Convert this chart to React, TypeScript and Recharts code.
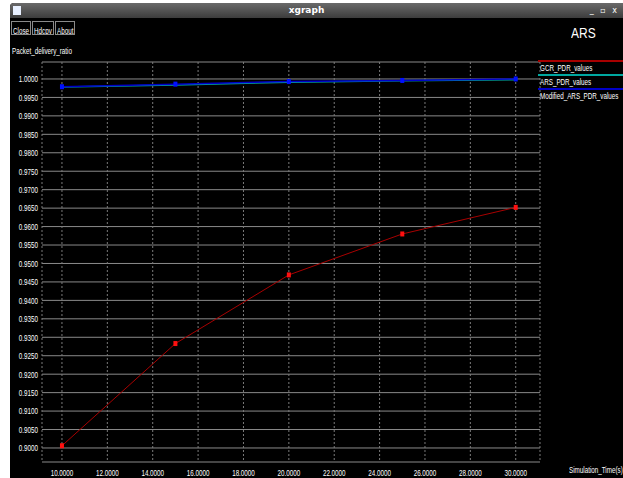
import { LineChart, Line, XAxis, YAxis, CartesianGrid, Legend } from "recharts";

const simTime = [10, 15, 20, 25, 30];
const gcrPdr = [0.9006, 0.9283, 0.9469, 0.958, 0.9652];
const arsPdr = [0.9978, 0.9984, 0.9991, 0.9995, 0.9998];
const modifiedArsPdr = [0.9979, 0.9986, 0.9993, 0.9996, 1.0];

const seriesNames = ["GCR_PDR_values", "ARS_PDR_values", "Modified_ARS_PDR_values"];

const xTicks = [10, 12, 14, 16, 18, 20, 22, 24, 26, 28, 30];
const yTicks = [
  0.9, 0.905, 0.91, 0.915, 0.92, 0.925, 0.93, 0.935, 0.94, 0.945, 0.95,
  0.955, 0.96, 0.965, 0.97, 0.975, 0.98, 0.985, 0.99, 0.995, 1.0,
];

const data = simTime.map((t, i) => ({
  t,
  gcr: gcrPdr[i],
  ars: arsPdr[i],
  mod: modifiedArsPdr[i],
}));

const font = "'Liberation Sans', Arial, sans-serif";
const SQUEEZE = 0.66;

// narrow xgraph-like text for html labels
const Narrow = ({ children, size = 9.5, scale = SQUEEZE }: any) => (
  <span
    style={{
      display: "inline-block",
      transform: `scaleX(${scale})`,
      transformOrigin: "left top",
      whiteSpace: "nowrap",
      fontFamily: font,
      fontSize: size,
      color: "#fff",
    }}
  >
    {children}
  </span>
);

const YTick = (props: any) => {
  const { x, y, payload } = props;
  return (
    <g transform={`translate(${x},${y})`}>
      <text transform={`scale(${SQUEEZE},1)`} textAnchor="end" dy="0.35em" fill="#fff" fontSize={9.5} fontFamily={font}>
        {payload.value.toFixed(4)}
      </text>
    </g>
  );
};

const XTick = (props: any) => {
  const { x, y, payload } = props;
  return (
    <g transform={`translate(${x},${y})`}>
      <text transform={`scale(${SQUEEZE},1)`} textAnchor="middle" dy="0.71em" fill="#fff" fontSize={9.5} fontFamily={font}>
        {payload.value.toFixed(4)}
      </text>
    </g>
  );
};

const squareDot = (fill: string) => (props: any) => {
  const { cx, cy, index } = props;
  return <rect key={index} x={cx - 2} y={cy - 2.5} width={4} height={5} fill={fill} />;
};

const LegendBox = (props: any) => {
  const items = [...(props.payload || [])].sort(
    (a: any, b: any) => seriesNames.indexOf(a.value) - seriesNames.indexOf(b.value)
  );
  return (
    <div style={{ width: 85 }}>
      {items.map((it: any) => (
        <div key={it.value} style={{ height: 14, position: "relative" }}>
          <div style={{ position: "absolute", top: 0, left: 0, borderTop: `2px solid ${it.color}`, width: 85 }} />
          <div style={{ position: "absolute", top: 1, left: 2, lineHeight: "10px" }}>
            <Narrow>{it.value}</Narrow>
          </div>
        </div>
      ))}
    </div>
  );
};

const Button = ({ label, w }: { label: string; w: number }) => (
  <div
    style={{
      width: w,
      height: 14,
      border: "1px solid #8a8a8a",
      lineHeight: "13px",
      marginRight: 1,
      overflow: "hidden",
      paddingLeft: 1,
      boxSizing: "border-box",
    }}
  >
    <Narrow>{label}</Narrow>
  </div>
);

export default function App() {
  return (
    <div
      style={{
        position: "absolute",
        left: 0,
        top: 0,
        width: 623,
        height: 478,
        background: "#fff",
        overflow: "hidden",
      }}
    >
      <div
        style={{
          position: "absolute",
          left: 10,
          top: 3,
          width: 613,
          height: 475,
          background: "#000",
          borderTopLeftRadius: 4,
        }}
      />
      {/* title bar */}
      <div
        style={{
          position: "absolute",
          left: 10,
          top: 3,
          width: 613,
          height: 15,
          background: "linear-gradient(#6a6a6a, #3c3c3c)",
          borderTopLeftRadius: 4,
          color: "#fff",
          fontFamily: "'DejaVu Sans', sans-serif",
          fontWeight: "bold",
          fontSize: 9,
          lineHeight: "15px",
        }}
      >
        <div style={{ position: "absolute", left: 3, top: 3, width: 8, height: 9, background: "#e8f0ff" }} />
        <div style={{ position: "absolute", width: 613, textAlign: "center", left: -10 }}>xgraph</div>
        <div style={{ position: "absolute", right: 4, top: 0, fontWeight: "normal", fontSize: 8, letterSpacing: 2 }}>
          _ ▫ x
        </div>
      </div>
      <div style={{ position: "absolute", left: 11, top: 21, display: "flex" }}>
        <Button label="Close" w={20} />
        <Button label="Hdcpy" w={22} />
        <Button label="About" w={20} />
      </div>
      <div style={{ position: "absolute", left: 12, top: 40 }}>
        <Narrow>Packet_delivery_ratio</Narrow>
      </div>
      <div style={{ position: "absolute", left: 571, top: 24 }}>
        <Narrow size={15} scale={0.8}>ARS</Narrow>
      </div>
      <div style={{ position: "absolute", left: 569, top: 459 }}>
        <Narrow>Simulation_Time(s)</Narrow>
      </div>
      <div style={{ position: "absolute", left: 0, top: 0 }}>
        <LineChart width={623} height={478} data={data} margin={{ top: 62, right: 83, bottom: 0, left: 0 }}>
          <CartesianGrid horizontal={true} vertical={false} stroke="#8a8a8a" strokeWidth={1} />
          <CartesianGrid horizontal={false} vertical={true} stroke="#7a7a7a" strokeDasharray="2 2" />
          <XAxis
            dataKey="t"
            type="number"
            domain={[9.12, 31.07]}
            ticks={xTicks}
            interval={0}
            allowDataOverflow
            axisLine={false}
            tickLine={false}
            height={16}
            tickSize={0}
            tickMargin={7}
            tick={<XTick />}
          />
          <YAxis
            type="number"
            domain={[0.8962, 1.0046]}
            ticks={yTicks}
            interval={0}
            allowDataOverflow
            axisLine={false}
            tickLine={false}
            width={42}
            tickSize={0}
            tickMargin={4}
            tick={<YTick />}
          />
          <Legend
            layout="vertical"
            align="center"
            verticalAlign="middle"
            wrapperStyle={{ position: "absolute", left: 538, top: 60, width: 85 }}
            content={LegendBox}
          />
          <Line
            name={seriesNames[0]}
            dataKey="gcr"
            stroke="#a80000"
            strokeWidth={1}
            dot={squareDot("#ff1010")}
            isAnimationActive={false}
          />
          <Line
            name={seriesNames[1]}
            dataKey="ars"
            stroke="#00a8a0"
            strokeWidth={1.5}
            dot={false}
            isAnimationActive={false}
          />
          <Line
            name={seriesNames[2]}
            dataKey="mod"
            stroke="#0000c8"
            strokeWidth={1.5}
            dot={squareDot("#0010ff")}
            isAnimationActive={false}
          />
        </LineChart>
      </div>
    </div>
  );
}
